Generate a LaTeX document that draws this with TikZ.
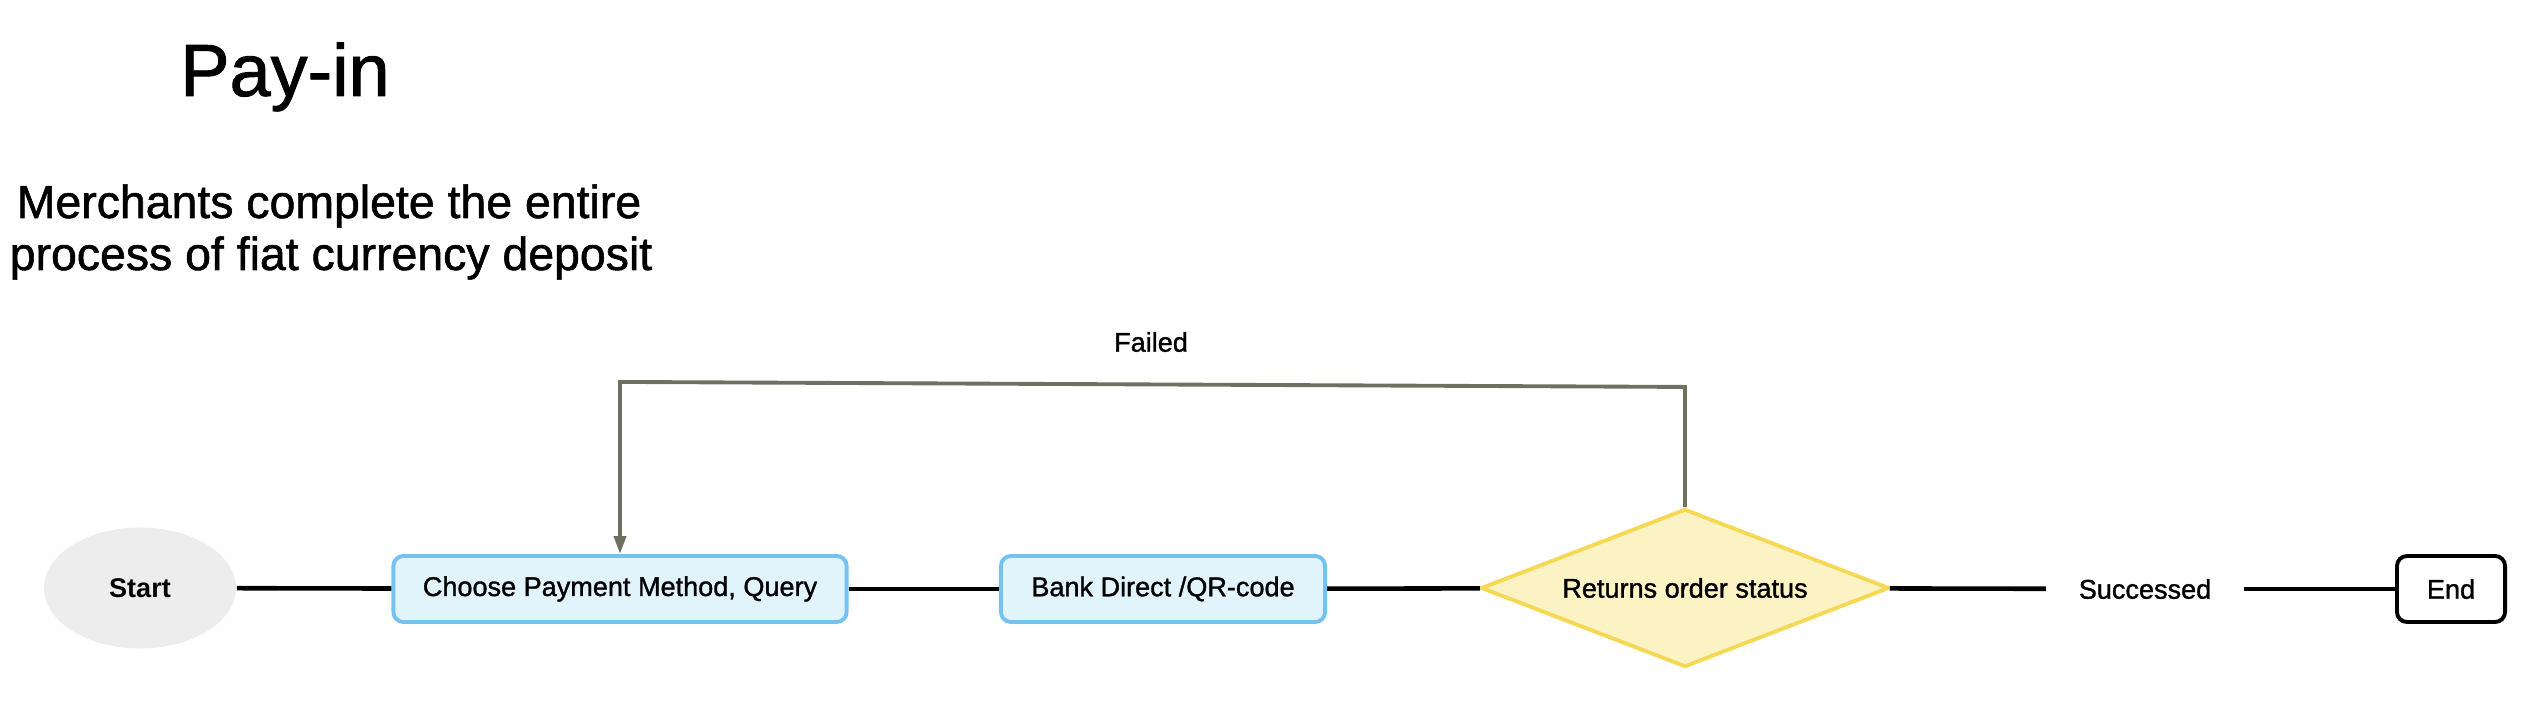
\documentclass[tikz,border=0pt]{standalone}
\usepackage{fontspec}
\setmainfont{Liberation Sans}
\newfontfamily\medfont{Liberation Sans}[BoldFont=Liberation Sans, BoldFeatures={FakeBold=1.2}]
\newcommand{\medtext}{\medfont\bfseries}
\usetikzlibrary{shapes.geometric,arrows.meta}
\definecolor{boxfill}{HTML}{E1F3FB}
\definecolor{boxline}{HTML}{74C2F2}
\definecolor{diafill}{HTML}{FCF3C5}
\definecolor{dialine}{HTML}{F5D853}
\definecolor{startfill}{HTML}{EDEDED}
\definecolor{fbline}{HTML}{6F7060}
\begin{document}
\begin{tikzpicture}[x=0.01cm,y=-0.01cm,
  lbl/.style={font=\medtext\fontsize{7.7}{9}\selectfont},
  procbox/.style={lbl, rectangle, rounded corners=0.1cm, draw=boxline, fill=boxfill,
    line width=1.1pt, minimum height=0.66cm, inner sep=0pt},
  startnode/.style={font=\bfseries\fontsize{7.7}{9}\selectfont, ellipse, fill=startfill, minimum width=1.92cm, minimum height=1.21cm, inner sep=0pt},
  endnode/.style={lbl, rectangle, rounded corners=0.1cm, draw=black, fill=white,
    line width=1.1pt, minimum width=1.08cm, minimum height=0.66cm, inner sep=0pt},
  decision/.style={lbl, diamond, aspect=2.58, draw=dialine, fill=diafill, line width=1.1pt,
    minimum width=4.08cm, minimum height=1.58cm, inner sep=0pt},
  plainlbl/.style={lbl, minimum width=1.97cm, inner sep=0pt},
  conn/.style={draw=black, line width=1.3pt},
  fbconn/.style={draw=fbline, line width=1.1pt, -{Triangle[length=0.18cm,width=0.12cm]}},
  heading/.style={anchor=base, font=\medtext\fontsize{21}{25}\selectfont},
  subheading/.style={anchor=base, font=\medtext\fontsize{13.2}{14.8}\selectfont},
]
\useasboundingbox (0,0) rectangle (2528,704);

\node[heading] (title) at (285,96) {Pay-in};
\node[subheading] (sub1) at (329,218) {Merchants complete the entire};
\node[subheading] (sub2) at (331,270) {process of fiat currency deposit};

\node[startnode] (start) at (140,588) {Start};
\node[procbox, minimum width=4.53cm] (b1) at (620,589) {Choose Payment Method, Query};
\node[procbox, minimum width=3.24cm] (b2) at (1163,589) {Bank Direct /QR-code};
\node[decision] (dia) at (1685,588) {Returns order status};
\node[plainlbl] (succ) at (2145,589) {Successed};
\node[endnode] (end) at (2451,589) {End};

\node[lbl] (failed) at (1151,342) {Failed};

\draw[conn] (start) -- (b1);
\draw[conn] (b1) -- (b2);
\draw[conn] (b2) -- (dia);
\draw[conn] (dia) -- (succ);
\draw[conn] (succ) -- (end);

\coordinate (fbR) at ([yshift=1.2cm]dia.north);
\coordinate (fbL) at ([yshift=1.72cm]b1.north);
\draw[fbconn] (dia.north) -- (fbR) -- (fbL) -- (b1.north);
\end{tikzpicture}
\end{document}
